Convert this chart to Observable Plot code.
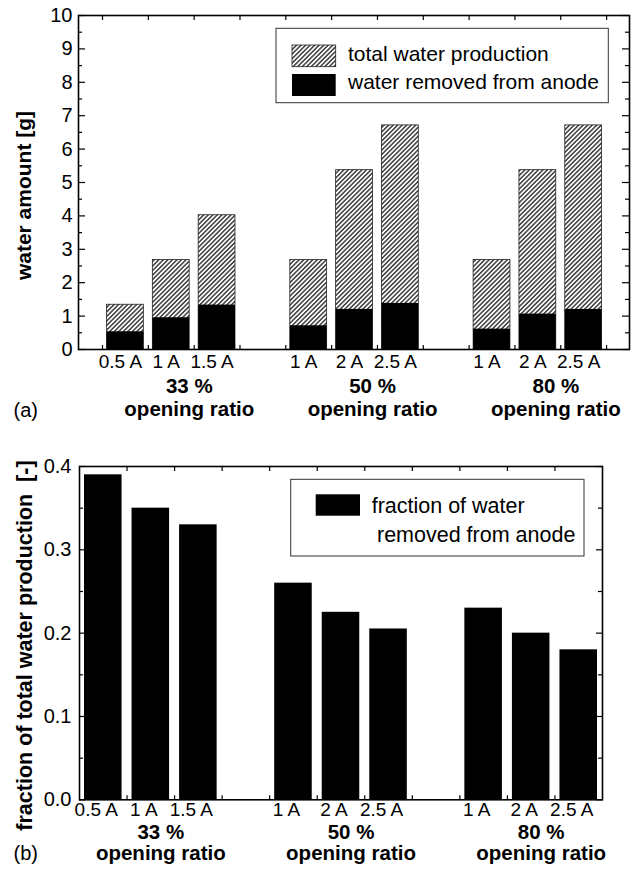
<!DOCTYPE html>
<html><head><meta charset="utf-8">
<script src="https://cdn.jsdelivr.net/npm/d3@7"></script>
<script src="https://cdn.jsdelivr.net/npm/@observablehq/plot@0.6"></script>
<style>
html,body{margin:0;padding:0;background:#fff;}
#wrap{position:relative;width:638px;height:873px;overflow:hidden;font-family:"Liberation Sans",Arial,Helvetica,sans-serif;}
#wrap > svg{display:block;}
#overlay{position:absolute;left:0;top:0;}
</style></head><body>
<svg width="0" height="0" style="position:absolute">
<defs><pattern id="hatch" patternUnits="userSpaceOnUse" width="3.2" height="3.2" patternTransform="rotate(45)">
<rect width="3.2" height="3.2" fill="white"/><line x1="1.6" y1="-1" x2="1.6" y2="4.2" stroke="#000" stroke-width="1.15"/></pattern></defs></svg>
<div id="wrap"></div>
<script>
// ---- data ----
const groups = ["33 %", "50 %", "80 %"];
const groupOfBar = [0, 0, 0, 1, 1, 1, 2, 2, 2];
const currentLabels = ["0.5 A", "1 A", "1.5 A", "1 A", "2 A", "2.5 A", "1 A", "2 A", "2.5 A"];
const totalWater = [1.34, 2.68, 4.02, 2.68, 5.37, 6.71, 2.68, 5.37, 6.71];
const removedWater = [0.53, 0.95, 1.33, 0.71, 1.20, 1.38, 0.61, 1.06, 1.20];
const fractionRemoved = [0.39, 0.35, 0.33, 0.26, 0.225, 0.205, 0.23, 0.20, 0.18];
const groupSubLabel = "opening ratio";
const legendA = ["total water production", "water removed from anode"];
const legendB = ["fraction of water", "removed from anode"];
const yTicksA = [0, 1, 2, 3, 4, 5, 6, 7, 8, 9, 10];
const yMinorA = [0.5, 1.5, 2.5, 3.5, 4.5, 5.5, 6.5, 7.5, 8.5, 9.5];
const xTicksA = [0, 1, 2, 3, 4, 5, 6, 7, 8, 9, 10, 11];
const yTicksB = [0, 0.1, 0.2, 0.3, 0.4];
const yMinorB = [0.05, 0.15, 0.25, 0.35];
const xTicksB = [1, 2, 3, 4, 5, 6, 7, 8, 9, 10];

// ---- tables ----
const bars = currentLabels.map((c, i) => {
  const g = groupOfBar[i];
  return {current: c, group: groups[g], slot: g * 4 + (i - g * 3),
          total: totalWater[i], removed: removedWater[i], fraction: fractionRemoved[i]};
});
const groupTable = groups.map((g, k) => ({group: g, center: k * 4 + 1.5}));

const W = 638;
const FONT = '"Liberation Sans", Arial, Helvetica, sans-serif';
const wrap = document.getElementById("wrap");

// ---- chart (a) ----
const A = {top: 15, bottom: 91, left: 78, right: 9, height: 440};
const iwA = W - A.left - A.right, ihA = A.height - A.top - A.bottom;
const plotA = Plot.plot({
  width: W, height: A.height,
  marginTop: A.top, marginBottom: A.bottom, marginLeft: A.left, marginRight: A.right,
  style: {background: "white", color: "#000", fontFamily: FONT, overflow: "visible"},
  x: {type: "linear", domain: [-0.524, 11.5], axis: null},
  y: {domain: [0, 10], label: null},
  marks: [
    Plot.rectY(bars, {x1: "slot", x2: d => d.slot + 1, y1: 0, y2: "total", insetLeft: 4.5, insetRight: 4.5,
      fill: "url(#hatch)", stroke: "#222", strokeWidth: 0.8}),
    Plot.rectY(bars, {x1: "slot", x2: d => d.slot + 1, y1: 0, y2: "removed", insetLeft: 4.5, insetRight: 4.5,
      fill: "#000"}),
    Plot.tickY(yTicksA, {y: d => d, insetRight: iwA - 7, stroke: "#000", strokeWidth: 1.2}),
    Plot.tickY(yMinorA, {y: d => d, insetRight: iwA - 4, stroke: "#000", strokeWidth: 1.2}),
    Plot.tickY(yTicksA, {y: d => d, insetLeft: iwA - 7, stroke: "#000", strokeWidth: 1.2}),
    Plot.tickY(yMinorA, {y: d => d, insetLeft: iwA - 4, stroke: "#000", strokeWidth: 1.2}),
    Plot.tickX(xTicksA, {x: d => d, insetBottom: ihA - 5, stroke: "#000", strokeWidth: 1.2}),
    Plot.tickX(xTicksA, {x: d => d, insetTop: ihA - 4, stroke: "#000", strokeWidth: 1.2}),
    Plot.frame({stroke: "#000", strokeWidth: 1.6}),
    Plot.axisY(yTicksA, {anchor: "left", tickSize: 0, tickPadding: 6, fontSize: 20, label: null}),
    Plot.text(bars, {x: d => d.slot + 0.5, text: "current", frameAnchor: "bottom", dy: 18.2, dx: -5, fontSize: 19}),
    Plot.text(groupTable, {x: "center", text: "group", frameAnchor: "bottom", dy: 43, dx: 18, fontSize: 20.5, fontWeight: "bold"}),
    Plot.text(groupTable, {x: "center", text: () => groupSubLabel, frameAnchor: "bottom", dy: 66.4, dx: 18, fontSize: 20.5, fontWeight: "bold"}),
    Plot.text(["(a)"], {text: d => d, frameAnchor: "bottom-left", dx: -65, dy: 67.3, textAnchor: "start", fontSize: 20}),
    Plot.text(["water amount [g]"], {text: d => d, frameAnchor: "left", textAnchor: "middle", rotate: -90, dx: -54, dy: 13, fontSize: 21, fontWeight: "bold"})
  ]
});
wrap.appendChild(plotA);

// ---- chart (b) ----
const B = {top: 26, bottom: 73.7, left: 79, right: 36, height: 433};
const iwB = W - B.left - B.right, ihB = B.height - B.top - B.bottom;
const plotB = Plot.plot({
  width: W, height: B.height,
  marginTop: B.top, marginBottom: B.bottom, marginLeft: B.left, marginRight: B.right,
  style: {background: "white", color: "#000", fontFamily: FONT, overflow: "visible"},
  x: {type: "linear", domain: [0, 11], axis: null},
  y: {domain: [0, 0.4], label: null},
  marks: [
    Plot.rectY(bars, {x1: "slot", x2: d => d.slot + 1, y1: 0, y2: "fraction", insetLeft: 5, insetRight: 5, fill: "#000"}),
    Plot.tickY(yTicksB, {y: d => d, insetRight: iwB - 6, stroke: "#000", strokeWidth: 1.2}),
    Plot.tickY(yMinorB, {y: d => d, insetRight: iwB - 4, stroke: "#000", strokeWidth: 1.2}),
    Plot.tickY(yTicksB, {y: d => d, insetLeft: iwB - 6, stroke: "#000", strokeWidth: 1.2}),
    Plot.tickY(yMinorB, {y: d => d, insetLeft: iwB - 4, stroke: "#000", strokeWidth: 1.2}),
    Plot.tickX(xTicksB, {x: d => d, insetBottom: ihB - 5, stroke: "#000", strokeWidth: 1.2}),
    Plot.tickX(xTicksB, {x: d => d, insetTop: ihB - 4, stroke: "#000", strokeWidth: 1.2}),
    Plot.frame({stroke: "#000", strokeWidth: 1.6}),
    Plot.axisY(yTicksB, {anchor: "left", tickSize: 0, tickPadding: 8, fontSize: 20, tickFormat: d3.format(".1f"), label: null}),
    Plot.text(bars, {x: d => d.slot + 0.5, text: "current", frameAnchor: "bottom", dy: 16.6, dx: -7, fontSize: 19}),
    Plot.text(groupTable, {x: "center", text: "group", frameAnchor: "bottom", dy: 39, dx: 10, fontSize: 20.5, fontWeight: "bold"}),
    Plot.text(groupTable, {x: "center", text: () => groupSubLabel, frameAnchor: "bottom", dy: 59.8, dx: 10, fontSize: 20.5, fontWeight: "bold"}),
    Plot.text(["(b)"], {text: d => d, frameAnchor: "bottom-left", dx: -66, dy: 60.3, textAnchor: "start", fontSize: 20}),
    Plot.text(["fraction of total water production  [-]"], {text: d => d, frameAnchor: "left", textAnchor: "middle", rotate: -90, dx: -54, dy: 12.4, fontSize: 21.5, fontWeight: "bold"})
  ]
});
wrap.appendChild(plotB);

// ---- legends (overlay) ----
const ov = d3.select(wrap).append("svg").attr("id", "overlay").attr("width", W).attr("height", 873)
  .style("font-family", FONT);
ov.append("rect").attr("x", 276).attr("y", 28.3).attr("width", 332.3).attr("height", 74.4)
  .attr("fill", "white").attr("stroke", "#333").attr("stroke-width", 1);
ov.append("rect").attr("x", 292).attr("y", 45).attr("width", 43.7).attr("height", 21.7)
  .attr("fill", "url(#hatch)").attr("stroke", "#222").attr("stroke-width", 0.8);
ov.append("rect").attr("x", 292).attr("y", 74).attr("width", 43.7).attr("height", 22).attr("fill", "#000");
ov.append("text").attr("x", 348).attr("y", 60.7).attr("font-size", 21).attr("fill", "#000").text(legendA[0]);
ov.append("text").attr("x", 348).attr("y", 89.3).attr("font-size", 21).attr("fill", "#000").text(legendA[1]);

ov.append("rect").attr("x", 290.7).attr("y", 479.3).attr("width", 293.3).attr("height", 76.7)
  .attr("fill", "white").attr("stroke", "#333").attr("stroke-width", 1);
ov.append("rect").attr("x", 315.7).attr("y", 494.3).attr("width", 44.3).attr("height", 21.4).attr("fill", "#000");
ov.append("text").attr("x", 371.7).attr("y", 512.7).attr("font-size", 21.5).attr("fill", "#000").text(legendB[0]);
ov.append("text").attr("x", 377).attr("y", 541.7).attr("font-size", 21.5).attr("fill", "#000").text(legendB[1]);
</script>
</body></html>
